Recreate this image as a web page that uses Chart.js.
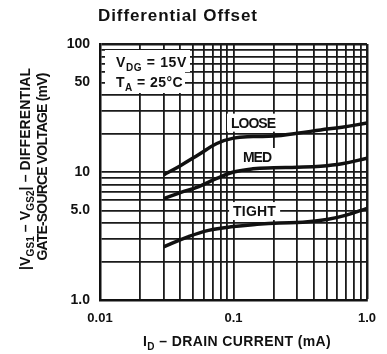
<!DOCTYPE html>
<html>
<head>
<meta charset="utf-8">
<title>Differential Offset</title>
<script src="https://cdn.jsdelivr.net/npm/chart.js@4/dist/chart.umd.min.js"></script>
<style>
  html, body { margin: 0; padding: 0; background: #fff; }
  #wrap { width: 387px; height: 354px; }
</style>
</head>
<body>
<div id="wrap"><canvas id="offsetChart" width="387" height="354"></canvas></div>
<script>
// drain current (mA) vs |VGS1 - VGS2| (mV) for the three matching grades
const currentLoose = [0.03, 0.04, 0.055, 0.075, 0.1, 0.14, 0.2, 0.3, 0.45, 0.65, 1.0];
const offsetLoose  = [9.5, 11.2, 13.7, 16.7, 18.4, 18.9, 19.1, 20.1, 21.3, 22.4, 24.1];

const currentMed = [0.03, 0.04, 0.055, 0.075, 0.1, 0.14, 0.2, 0.3, 0.45, 0.65, 1.0];
const offsetMed  = [6.2, 6.9, 7.7, 8.9, 10.0, 10.6, 10.8, 10.9, 11.1, 11.6, 12.8];

const currentTight = [0.03, 0.045, 0.065, 0.1, 0.15, 0.22, 0.33, 0.5, 0.7, 1.0];
const offsetTight  = [2.6, 3.1, 3.5, 3.75, 3.9, 4.0, 4.05, 4.25, 4.6, 5.2];

// log grid lines and the few that carry a label
const xGridValues = [0.01, 0.02, 0.03, 0.04, 0.05, 0.06, 0.07, 0.08, 0.09,
                     0.1, 0.2, 0.3, 0.4, 0.5, 0.6, 0.7, 0.8, 0.9, 1];
const yGridValues = [1, 2, 3, 4, 5, 6, 7, 8, 9,
                     10, 20, 30, 40, 50, 60, 70, 80, 90, 100];
const xTickLabels = { 0.01: '0.01', 0.1: '0.1', 1: '1.0' };
const yTickLabels = { 1: '1.0', 5: '5.0', 10: '10', 50: '50', 100: '100' };

const FONT = '"Liberation Sans", Arial, Helvetica, sans-serif';
const INK = '#111';

function toPoints(xs, ys) {
    return xs.map((x, i) => ({ x: x, y: ys[i] }));
}

// draws text made of normal + subscript runs, stretched to a given width,
// centred on (cx, cy) where cy is the middle of the capitals
function drawRich(ctx, parts, cx, cy, size, width, align) {
    const subSize = Math.round(size * 0.72);
    let chars = 0;
    let natural = 0;
    ctx.save();
    ctx.letterSpacing = '0px';
    parts.forEach(([t, sub]) => {
        ctx.font = `bold ${sub ? subSize : size}px ${FONT}`;
        natural += ctx.measureText(t).width;
        chars += t.length;
    });
    const extra = width ? (width - natural) / chars : 0;
    ctx.letterSpacing = extra.toFixed(2) + 'px';
    let x = align === 'left' ? cx : cx - (natural + extra * chars) / 2;
    const baseline = cy + size * 0.36;
    ctx.fillStyle = INK;
    ctx.textBaseline = 'alphabetic';
    ctx.textAlign = 'left';
    parts.forEach(([t, sub]) => {
        ctx.font = `bold ${sub ? subSize : size}px ${FONT}`;
        ctx.fillText(t, x, sub ? baseline + size * 0.28 : baseline);
        x += ctx.measureText(t).width;
    });
    ctx.restore();
}

function whiteBox(ctx, x0, y0, x1, y1) {
    ctx.save();
    ctx.fillStyle = '#fff';
    ctx.fillRect(x0, y0, x1 - x0, y1 - y0);
    ctx.restore();
}

const annotations = {
    id: 'annotations',
    beforeDatasetsDraw(chart) {
        const ctx = chart.ctx;
        const xs = chart.scales.x;
        const ys = chart.scales.y;
        const px = v => xs.getPixelForValue(v);
        const py = v => ys.getPixelForValue(v);

        // test conditions in the upper left corner
        whiteBox(ctx, 105, 50, 190, 72);
        whiteBox(ctx, 105, 72, 185, 93);
        drawRich(ctx, [['V'], ['DG', true], [' = 15V']], 116, 62, 14, 71, 'left');
        drawRich(ctx, [['T'], ['A', true], [' = 25°C']], 116, 82, 14, 67, 'left');

        // grade names sit just above their curves
        const names = [
            { text: 'LOOSE', x: 0.14, y: 24.3, w: 44 },
            { text: 'MED', x: 0.15, y: 13.1, w: 28 },
            { text: 'TIGHT', x: 0.144, y: 4.95, w: 43 }
        ];
        names.forEach(n => {
            const cx = px(n.x);
            const cy = py(n.y);
            whiteBox(ctx, cx - n.w / 2 - 4, cy - 9, cx + n.w / 2 + 4, cy + 9);
            drawRich(ctx, [[n.text]], cx, cy, 14, n.w);
        });
    },
    afterDraw(chart) {
        const ctx = chart.ctx;
        drawRich(ctx, [['Differential Offset']], 178, 15, 17, 160);
        drawRich(ctx, [['I'], ['D', true], [' – DRAIN CURRENT (mA)']], 237, 341, 14, 188);

        ctx.save();
        ctx.translate(25, 169);
        ctx.rotate(-Math.PI / 2);
        drawRich(ctx, [['|V'], ['GS1', true], [' – V'], ['GS2', true], ['| – DIFFERENTIAL']], 0, 0, 14, 202);
        ctx.restore();

        ctx.save();
        ctx.translate(42, 167);
        ctx.rotate(-Math.PI / 2);
        drawRich(ctx, [['GATE-SOURCE VOLTAGE (mV)']], 0, 0, 14, 187);
        ctx.restore();
    }
};

const curveStyle = {
    borderColor: INK,
    borderWidth: 3.5,
    pointRadius: 0,
    fill: false,
    tension: 0.4
};

const ctx = document.getElementById('offsetChart').getContext('2d');
const offsetChart = new Chart(ctx, {
    type: 'line',
    data: {
        datasets: [
            Object.assign({ label: 'LOOSE', data: toPoints(currentLoose, offsetLoose) }, curveStyle),
            Object.assign({ label: 'MED', data: toPoints(currentMed, offsetMed) }, curveStyle),
            Object.assign({ label: 'TIGHT', data: toPoints(currentTight, offsetTight) }, curveStyle)
        ]
    },
    options: {
        responsive: false,
        animation: false,
        devicePixelRatio: 1,
        layout: { padding: { left: 0, right: 16, top: 44, bottom: 0 } },
        plugins: {
            legend: { display: false },
            tooltip: { enabled: false },
            title: { display: false }
        },
        scales: {
            x: {
                type: 'logarithmic',
                min: 0.01,
                max: 1,
                afterBuildTicks: s => { s.ticks = xGridValues.map(v => ({ value: v })); },
                afterFit: s => { s.height = 54; },
                border: { color: INK, width: 2.5 },
                grid: {
                    color: '#1a1a1a',
                    drawTicks: false,
                    lineWidth: c => (c.tick && c.tick.value === 1 ? 2.5 : 1.8)
                },
                ticks: {
                    autoSkip: false,
                    maxRotation: 0,
                    padding: 11,
                    color: INK,
                    font: { family: FONT, size: 13, weight: 'bold' },
                    callback: v => xTickLabels[v] || ''
                }
            },
            y: {
                type: 'logarithmic',
                min: 1,
                max: 100,
                afterBuildTicks: s => { s.ticks = yGridValues.map(v => ({ value: v })); },
                afterFit: s => { s.width = 100; },
                border: { color: INK, width: 2.5 },
                grid: {
                    color: '#1a1a1a',
                    drawTicks: false,
                    lineWidth: c => (c.tick && c.tick.value === 100 ? 2.5 : 1.8)
                },
                ticks: {
                    autoSkip: false,
                    padding: 10,
                    color: INK,
                    font: { family: FONT, size: 14, weight: 'bold' },
                    callback: v => yTickLabels[v] || ''
                }
            }
        }
    },
    plugins: [annotations]
});
</script>
</body>
</html>
